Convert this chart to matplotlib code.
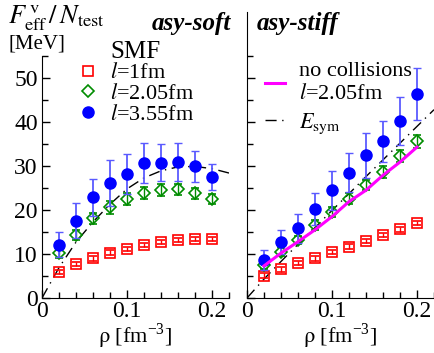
import numpy as np
import matplotlib.pyplot as plt
from matplotlib.lines import Line2D

plt.rcParams['font.family'] = ['Liberation Serif', 'DejaVu Serif']
plt.rcParams['mathtext.fontset'] = 'stix'

# densities of the calculated points [fm^-3]
rho = [0.02, 0.04, 0.06, 0.08, 0.10, 0.12, 0.14, 0.16, 0.18, 0.20]

# asy-soft
soft_l1 = [5.9, 7.7, 9.0, 10.3, 11.2, 12.1, 12.7, 13.2, 13.4, 13.4]
soft_l1_err = [0.5, 0.5, 0.5, 0.5, 0.5, 0.5, 0.5, 0.5, 0.5, 0.5]
soft_l2 = [10.2, 14.3, 18.1, 20.6, 22.5, 23.9, 24.5, 24.7, 23.8, 22.5]
soft_l2_err = [1.0, 1.2, 1.3, 1.5, 1.4, 1.4, 1.3, 1.3, 1.2, 1.1]
soft_l3 = [12.1, 17.6, 22.9, 26.2, 28.2, 30.7, 30.7, 30.9, 29.9, 27.5]
soft_l3_err = [2.8, 3.9, 4.2, 5.2, 4.5, 4.5, 4.2, 4.3, 3.5, 2.9]

# asy-stiff
stiff_l1 = [5.1, 6.5, 7.9, 9.0, 10.4, 11.7, 13.0, 14.3, 15.6, 17.0]
stiff_l1_err = [0.5, 0.5, 0.5, 0.5, 0.5, 0.5, 0.5, 0.5, 0.5, 0.5]
stiff_l2 = [7.4, 10.5, 13.2, 16.6, 19.5, 22.6, 25.7, 28.6, 32.3, 35.6]
stiff_l2_err = [0.9, 1.0, 1.0, 1.1, 1.1, 1.2, 1.2, 1.3, 1.3, 1.4]
stiff_l3 = [8.6, 12.7, 15.8, 20.3, 24.5, 28.5, 32.4, 35.6, 40.2, 46.4]
stiff_l3_err = [2.2, 2.7, 3.3, 3.6, 4.4, 4.5, 5.1, 4.7, 5.4, 5.9]
stiff_nocoll = [7.3, 10.2, 12.8, 15.5, 18.5, 21.9, 24.5, 27.9, 30.9, 34.3]

# symmetry energy curves
rho_esym = [0.0, 0.02, 0.04, 0.06, 0.08, 0.10, 0.12, 0.14, 0.16, 0.18, 0.20, 0.22]
esym_soft = [0.0, 6.9, 12.7, 17.3, 21.3, 24.8, 27.3, 28.9, 29.8, 29.9, 29.4, 28.4]
esym_stiff = [0.0, 4.3, 8.3, 12.2, 16.0, 19.9, 23.7, 27.6, 31.4, 35.2, 39.0, 42.8]

W, H = 434, 353
fig = plt.figure(figsize=(W / 100, H / 100), dpi=100)

RED, GREEN, BLUE, MAG = '#ff0000', '#008c00', '#0000ff', '#ff00ff'
DASHDOT = (0, (8, 4, 1, 4))


def px_axes(x0, x1, y0, y1):
    return fig.add_axes([x0 / W, 1 - y1 / H, (x1 - x0) / W, (y1 - y0) / H])


def draw_points(ax, l1, e1, l2, e2, l3, e3):
    ax.errorbar(rho, l1, yerr=e1, fmt='s', ms=7, mfc='none', mec=RED, mew=1.2,
                ecolor=RED, elinewidth=1, capsize=3, zorder=3)
    ax.errorbar(rho, l2, yerr=e2, fmt='D', ms=6, mfc='none', mec=GREEN, mew=1.2,
                ecolor=GREEN, elinewidth=1, capsize=3, zorder=3)
    ax.errorbar(rho, l3, yerr=e3, fmt='o', ms=8, mfc=BLUE, mec=BLUE,
                ecolor='#5a5aff', elinewidth=1.3, capsize=3, zorder=4)


def style(ax, spine_top):
    ax.set_xlim(0, 0.22)
    ax.set_ylim(0, 65)
    for s in ('top', 'right'):
        ax.spines[s].set_visible(False)
    ax.spines['left'].set_bounds(0, spine_top)
    ax.set_xticks([0, 0.1, 0.2])
    ax.set_xticks(np.arange(0, 0.221, 0.02), minor=True)
    ax.set_xticklabels(['0', '0.1', '0.2'])
    ax.set_yticks([0, 10, 20, 30, 40, 50])
    ax.set_yticks([5, 15, 25, 35, 45, 55], minor=True)
    ax.tick_params(which='both', direction='in', labelsize=17, width=1)
    ax.tick_params(which='major', length=6)
    ax.tick_params(which='minor', length=4)
    ax.tick_params(axis='x', pad=2)
    ax.tick_params(axis='y', pad=3)
    ax.set_xlabel(r'$\mathrm{\rho}$ [fm$^{\mathregular{-3}}$]', fontsize=16, labelpad=0)


ax1 = px_axes(42, 229, 12, 298)
draw_points(ax1, soft_l1, soft_l1_err, soft_l2, soft_l2_err, soft_l3, soft_l3_err)
ax1.plot(rho_esym, esym_soft, color='black', lw=1, ls=DASHDOT, zorder=2)
style(ax1, 55)
ax1.text(1.01, 1.0, 'asy-soft', transform=ax1.transAxes, ha='right', va='top',
         fontsize=18, fontweight='bold', fontstyle='italic')
fig.text(8 / W, 1 - 18 / H, r'$F^{\,\mathrm{v}}_{\mathrm{eff}}\,/\,N_{\mathrm{test}}$',
         fontsize=19, va='center', ha='left')
fig.text(8 / W, 1 - 44 / H, '[MeV]', fontsize=15, va='center', ha='left')

h1 = [Line2D([], [], ls='none', marker='s', ms=7, mfc='none', mec=RED, mew=1.2),
      Line2D([], [], ls='none', marker='D', ms=6, mfc='none', mec=GREEN, mew=1.2),
      Line2D([], [], ls='none', marker='o', ms=8, mfc=BLUE, mec=BLUE)]
leg1 = ax1.legend(h1, [r'$l$=1fm', r'$l$=2.05fm', r'$l$=3.55fm'], loc='upper left',
                  bbox_to_anchor=(0.14, 0.93), frameon=False, fontsize=16,
                  handlelength=1.0, handletextpad=0.5, labelspacing=0.0,
                  borderaxespad=0, title='SMF', title_fontsize=18)

ax2 = px_axes(247, 434, 12, 298)
draw_points(ax2, stiff_l1, stiff_l1_err, stiff_l2, stiff_l2_err, stiff_l3, stiff_l3_err)
ax2.plot(rho_esym, esym_stiff, color='black', lw=1, ls=DASHDOT, zorder=2)
ax2.plot(rho, stiff_nocoll, color=MAG, lw=2.2, zorder=5)
style(ax2, 65)
ax2.set_yticklabels([])
ax2.text(0.05, 1.0, 'asy-stiff', transform=ax2.transAxes, ha='left', va='top',
         fontsize=18, fontweight='bold', fontstyle='italic')

h2 = [Line2D([], [], color=MAG, lw=2.2),
      Line2D([], [], color='black', lw=1, ls=DASHDOT)]
ax2.legend(h2, ['no collisions\n' + r'$l$=2.05fm', r'$E_{\mathrm{sym}}$'], loc='upper left',
           bbox_to_anchor=(0.05, 0.855), frameon=False, fontsize=16,
           handlelength=0.9, handletextpad=0.6, labelspacing=0.3, borderaxespad=0)

fig.savefig('out.png', dpi=100)
